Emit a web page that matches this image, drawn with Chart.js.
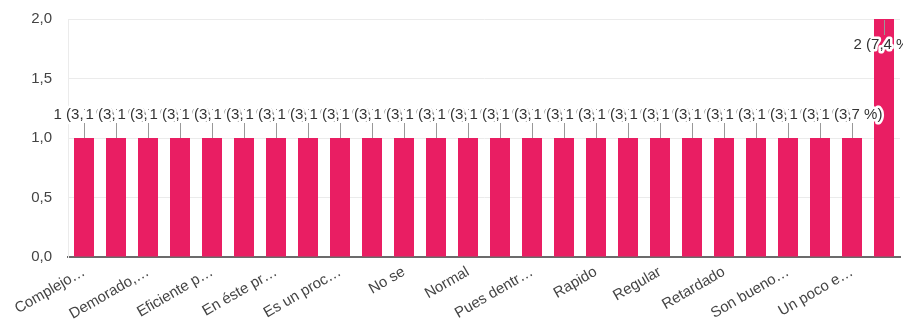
<!DOCTYPE html>
<html>
<head>
<meta charset="utf-8">
<script src="https://cdn.jsdelivr.net/npm/chart.js@4/dist/chart.umd.min.js"></script>
<style>
  html, body { margin: 0; padding: 0; background: #fff; }
  #wrap { width: 903px; height: 325px; position: relative; }
</style>
</head>
<body>
<div id="wrap"><canvas id="c"></canvas></div>
<script>
// Category labels (as shown on the axis; every other one is hidden by the chart)
const categories = [
  "Complejo…", "Complicado", "Demorado,…", "Demorado", "Eficiente p…", "Eficiente",
  "En éste pr…", "Es muy lento", "Es un proc…", "Lento", "No se", "No tengo idea",
  "Normal", "Poco eficiente", "Pues dentr…", "Que se demora", "Rapido", "Razonable",
  "Regular", "Regular, lento", "Retardado", "Sencillo", "Son bueno…", "Tardado",
  "Un poco e…", "Un poco lento"
];
// Response counts per category
const counts = [1,1,1,1,1,1,1,1,1,1,1,1,1,1,1,1,1,1,1,1,1,1,1,1,1,2];
// Y axis ticks
const yTicks = [0, 0.5, 1, 1.5, 2];

const total = counts.reduce((a, b) => a + b, 0);
const FONT = '"Liberation Sans", Arial, sans-serif';

const dataLabels = {
  id: 'dataLabels',
  afterDatasetsDraw(chart) {
    const ctx = chart.ctx;
    const meta = chart.getDatasetMeta(0);
    const area = chart.chartArea;
    const items = meta.data.map((bar, i) => {
      const v = counts[i];
      const pct = (v / total * 100).toFixed(1).replace('.', ',');
      const text = v + ' (' + pct + ' %)';
      const top = bar.y;
      const below = (top - 32) < area.top;
      return { x: bar.x, top, text, below };
    });
    ctx.save();
    // leader lines
    ctx.strokeStyle = '#999';
    ctx.lineWidth = 1;
    items.forEach(it => {
      ctx.beginPath();
      const x = Math.round(it.x) + 0.5;
      if (it.below) {
        ctx.moveTo(x, it.top + 1);
        ctx.lineTo(x, it.top + 16);
      } else {
        ctx.moveTo(x, it.top);
        ctx.lineTo(x, it.top - 15);
      }
      ctx.stroke();
    });
    // labels with white halo
    ctx.font = '15px ' + FONT;
    ctx.textAlign = 'center';
    ctx.textBaseline = 'middle';
    ctx.lineJoin = 'round';
    items.forEach(it => {
      const y = it.below ? it.top + 26 : it.top - 23;
      ctx.strokeStyle = '#fff';
      ctx.lineWidth = 5;
      ctx.strokeText(it.text, it.x, y);
      ctx.fillStyle = '#333';
      ctx.fillText(it.text, it.x, y);
    });
    ctx.restore();
  }
};

new Chart(document.getElementById('c'), {
  type: 'bar',
  data: {
    labels: categories,
    datasets: [{
      data: counts,
      backgroundColor: '#e91e63',
      borderWidth: 0,
      barPercentage: 0.625,
      categoryPercentage: 1.0
    }]
  },
  options: {
    responsive: true,
    maintainAspectRatio: false,
    animation: false,
    layout: { padding: { top: 19, left: 30, right: 3, bottom: 0 } },
    plugins: { legend: { display: false }, tooltip: { enabled: false } },
    scales: {
      x: {
        grid: { display: false, drawTicks: false },
        border: { display: true, color: '#6b6b6b', width: 2 },
        ticks: {
          autoSkip: false,
          minRotation: 30,
          maxRotation: 30,
          padding: 6,
          color: '#444',
          font: { size: 15, family: FONT },
          callback: (v, i) => (i % 2 === 0 ? categories[i] : null)
        },
        afterFit: (s) => { s.height = 68; }
      },
      y: {
        min: 0,
        max: 2,
        afterBuildTicks: (s) => { s.ticks = yTicks.map(v => ({ value: v })); },
        grid: { color: '#ebebeb', drawTicks: false },
        border: { display: true, color: '#ebebeb' },
        ticks: {
          padding: 16,
          color: '#444',
          font: { size: 15, family: FONT },
          callback: (v) => Number(v).toFixed(1).replace('.', ',')
        },
        afterFit: (s) => { s.width = 38; s.paddingTop = 8; s.paddingBottom = 8; }
      }
    }
  },
  plugins: [dataLabels]
});
</script>
</body>
</html>
